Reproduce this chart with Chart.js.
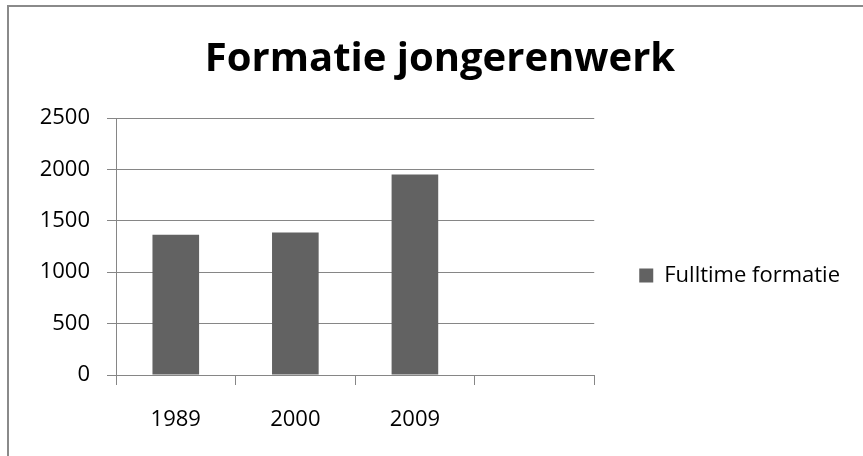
<!DOCTYPE html>
<html>
<head>
<meta charset="utf-8">
<script src="https://cdn.jsdelivr.net/npm/chart.js@4/dist/chart.umd.min.js"></script>
<style>
  html, body { margin: 0; padding: 0; background: #fff; overflow: hidden; width: 863px; height: 456px; }
  #frame { position: absolute; left: 7px; top: 5px; width: 2000px; height: 2000px; border: 2px solid #8a8a8a; }
  #c { position: absolute; left: 0; top: 0; }
</style>
</head>
<body>
<div id="frame"></div>
<canvas id="c" width="850" height="456"></canvas>
<script>
const titleText = 'Formatie jongerenwerk';
const categories = ['1989', '2000', '2009', ''];
const seriesName = 'Fulltime formatie';
const seriesValues = [1365, 1385, 1950, null];
const yTicks = [0, 500, 1000, 1500, 2000, 2500];

const gridColor = '#868686';
const barColor = '#626262';
const fontFamily = '"Open Sans", "Noto Sans", sans-serif';

new Chart(document.getElementById('c'), {
  type: 'bar',
  data: {
    labels: categories,
    datasets: [{
      label: seriesName,
      data: seriesValues,
      backgroundColor: barColor,
      borderWidth: 0,
      categoryPercentage: 1,
      barPercentage: 0.39
    }]
  },
  options: {
    responsive: false,
    animation: false,
    layout: { padding: { left: 30, right: 0, top: 0, bottom: 0 } },
    plugins: {
      title: {
        display: true,
        text: titleText,
        color: '#000',
        font: { family: fontFamily, size: 40, weight: 'bold', lineHeight: 1 },
        padding: { top: 40, bottom: 38 }
      },
      legend: {
        display: true,
        position: 'right',
        align: 'center',
        maxWidth: 400,
        title: { display: true, text: ' ', font: { size: 1, lineHeight: 1 }, padding: { top: 0, bottom: 94 } },
        labels: {
          color: '#000',
          font: { family: fontFamily, size: 22 },
          boxWidth: 14,
          boxHeight: 14,
          padding: 45
        }
      },
      tooltip: { enabled: false }
    },
    scales: {
      x: {
        afterFit: s => { s.height = 81; },
        grid: { display: true, drawOnChartArea: false, drawTicks: true, tickLength: 10, color: gridColor, offset: true },
        border: { display: true, color: gridColor, width: 1 },
        ticks: { color: '#000', font: { family: fontFamily, size: 22 }, padding: 22, maxRotation: 0, autoSkip: false }
      },
      y: {
        min: 0,
        max: 2500,
        afterFit: s => { s.width = 86; },
        afterBuildTicks: s => { s.ticks = yTicks.map(v => ({ value: v })); },
        grid: { display: true, drawOnChartArea: true, drawTicks: true, tickLength: 9, color: gridColor },
        border: { display: true, color: gridColor, width: 1 },
        ticks: { color: '#000', font: { family: fontFamily, size: 22 }, padding: 17, callback: v => String(v) }
      }
    }
  }
});
</script>
</body>
</html>
